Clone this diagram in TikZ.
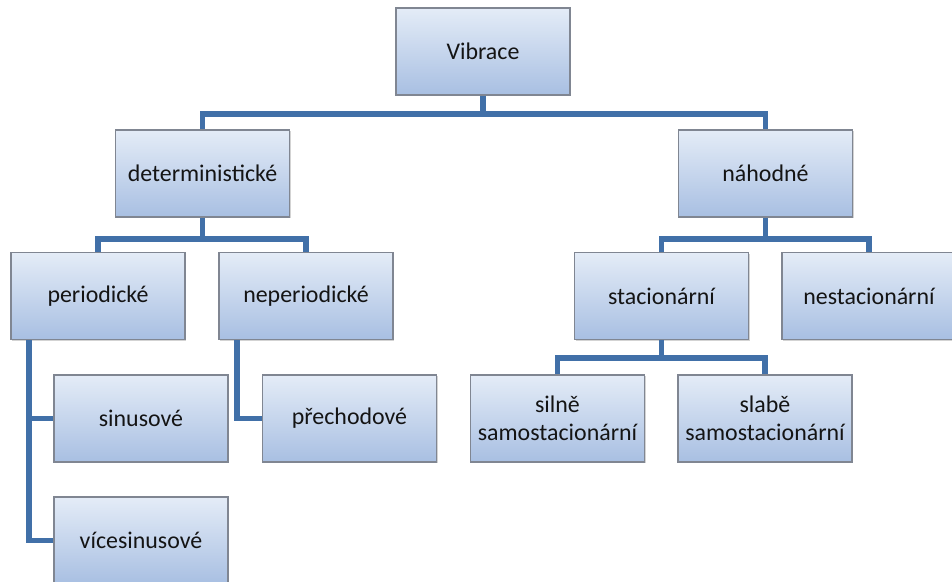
\documentclass[tikz,border=0pt]{standalone}
\usepackage{fontspec}
\setmainfont{Carlito}
\usetikzlibrary{positioning,calc,shadows}
\definecolor{boxtop}{RGB}{228,236,247}
\definecolor{boxbottom}{RGB}{168,191,226}
\definecolor{boxline}{RGB}{128,134,146}
\definecolor{linkblue}{RGB}{65,112,168}
\definecolor{textdark}{RGB}{20,20,20}

\begin{document}
\begin{tikzpicture}[
		x=1cm,
		y=1cm,
		font=\fontsize{13.6}{16}\selectfont,
		box/.style={
			draw=boxline,
			line width=0.8pt,
			top color=boxtop,
			bottom color=boxbottom,
			drop shadow={shadow xshift=0.6pt, shadow yshift=-0.8pt, opacity=0.35},
			minimum width=3.48cm,
			minimum height=1.74cm,
			align=center,
			text=textdark,
			inner sep=2pt
		},
		link/.style={draw=linkblue, line width=3.2pt}
	]
	
	% Canvas
	\useasboundingbox (0,0) rectangle (19.04,-11.62);
	
	% Level 0
	\node[box] (vibrace) at (9.66,-1.03) {Vibrace};
	
	% Level 1
	\node[box] (determ) at (4.05,-3.47) {deterministické};
	\node[box] (nahodne) at (15.31,-3.47) {náhodné};
	
	% Level 2
	\node[box] (period) at (1.96,-5.92) {periodické};
	\node[box] (neperiod) at (6.12,-5.92) {neperiodické};
	\node[box] (stac) at (13.23,-5.92) {stacionární};
	\node[box] (nestac) at (17.38,-5.92) {nestacionární};
	
	% Level 3
	\node[box] (sinus) at (2.82,-8.37) {sinusové};
	\node[box] (prechod) at (6.99,-8.37) {přechodové};
	\node[box] (silne) at (11.15,-8.37) {silně\\samostacionární};
	\node[box] (slabe) at (15.30,-8.37) {slabě\\samostacionární};
	\node[box] (vicesin) at (2.82,-10.81) {vícesinusové};
	
	% Connectors
	\coordinate (bus0) at ($(vibrace.south)+(0,-0.36)$);
	\draw[link] (vibrace.south) -- (bus0) -| (determ.north);
	\draw[link] (bus0) -| (nahodne.north);
	
	\coordinate (bus1) at ($(determ.south)+(0,-0.42)$);
	\draw[link] (determ.south) -- (bus1) -| (period.north);
	\draw[link] (bus1) -| (neperiod.north);
	
	\coordinate (bus2) at ($(nahodne.south)+(0,-0.42)$);
	\draw[link] (nahodne.south) -- (bus2) -| (stac.north);
	\draw[link] (bus2) -| (nestac.north);
	
	\coordinate (bus3) at ($(stac.south)+(0,-0.36)$);
	\draw[link] (stac.south) -- (bus3) -| (silne.north);
	\draw[link] (bus3) -| (slabe.north);
	
	\coordinate (rail1) at ($(period.south west)+(0.38,0)$);
	\draw[link] (rail1) |- (sinus.west);
	\draw[link] (rail1) |- (vicesin.west);
	
	\coordinate (rail2) at ($(neperiod.south west)+(0.38,0)$);
	\draw[link] (rail2) |- (prechod.west);
	
\end{tikzpicture}
\end{document}
